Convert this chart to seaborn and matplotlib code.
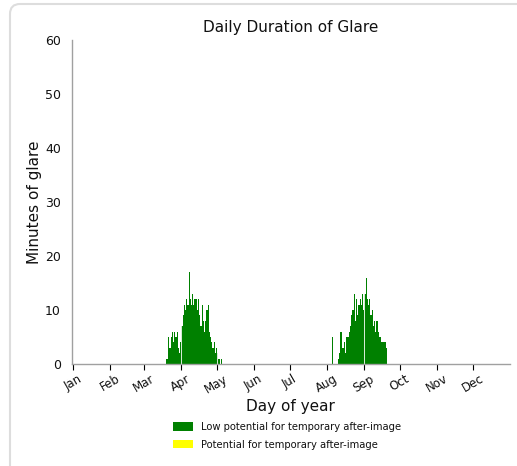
import numpy as np
import pandas as pd
import matplotlib
matplotlib.use("Agg")
import matplotlib.pyplot as plt
import seaborn as sns
from matplotlib.patches import FancyBboxPatch, Patch

# ---- data ----
spring_days = list(range(79, 126))
spring_minutes = [1, 1, 5, 3, 5, 6, 4, 6, 5, 6, 3, 2, 4, 7, 9, 11, 10, 12, 11, 17,
                  12, 11, 13, 11, 12, 12, 10, 12, 9, 7, 11, 8, 6, 8, 10, 11, 6, 5,
                  4, 3, 4, 2, 3, 2, 1, 0, 1]
autumn_days = [218] + list(range(223, 264))
autumn_minutes = [5, 1, 2, 6, 3, 3, 4, 2, 5, 5, 6, 7, 9, 10, 13, 8, 12, 9, 11, 12, 11,
                  13, 10, 13, 16, 12, 11, 12, 9, 10, 7, 8, 6, 8, 6, 5, 5, 4, 4, 4, 4, 3]
month_labels = ["Jan", "Feb", "Mar", "Apr", "May", "Jun",
                "Jul", "Aug", "Sep", "Oct", "Nov", "Dec"]
month_start_days = [1, 32, 60, 91, 121, 152, 182, 213, 244, 274, 305, 335]
legend_labels = ["Low potential for temporary after-image",
                 "Potential for temporary after-image"]
legend_colors = ["#008000", "#ffff00"]

df = pd.DataFrame({"day": spring_days + autumn_days,
                   "minutes": spring_minutes + autumn_minutes})

sns.set_style("white")
plt.rcParams["font.family"] = ["DejaVu Sans"]
plt.rcParams["text.color"] = "#111111"
plt.rcParams["axes.labelcolor"] = "#111111"
plt.rcParams["xtick.color"] = "#111111"
plt.rcParams["ytick.color"] = "#111111"

fig = plt.figure(figsize=(5.17, 4.66), dpi=100)
ax = fig.add_axes([0.139, 0.219, 0.847, 0.695])

sns.barplot(data=df, x="day", y="minutes", native_scale=True, color="#008000",
            width=1.0, linewidth=0, saturation=1, ax=ax, errorbar=None)

for d in month_start_days:
    ax.axvline(d, color="white", lw=0.6, zorder=2)

ax.set_xlim(0, 366)
ax.set_ylim(0, 60)
ax.set_xticks(month_start_days)
ax.set_xticklabels(month_labels, rotation=30, fontsize=8.5)
ax.set_yticks(range(0, 61, 10))
ax.tick_params(axis="y", length=0, labelsize=9, pad=8)
ax.tick_params(axis="x", length=4, width=0.8, color="black", bottom=True, pad=2)
for s in ["top", "right"]:
    ax.spines[s].set_visible(False)
ax.spines["left"].set_color("#a0a0a0")
ax.spines["bottom"].set_color("#a0a0a0")
ax.spines["left"].set_linewidth(1.0)
ax.spines["bottom"].set_linewidth(1.0)

ax.set_title("Daily Duration of Glare", fontsize=11, pad=6)
ax.set_xlabel("Day of year", fontsize=11, labelpad=2)
ax.set_ylabel("Minutes of glare", fontsize=11, labelpad=2)

handles = [Patch(facecolor=c, edgecolor="none") for c in legend_colors]
fig.legend(handles, legend_labels, loc="upper center", bbox_to_anchor=(0.555, 0.105),
           frameon=False, fontsize=7.2, handlelength=2.0, handleheight=0.9,
           labelspacing=0.75, borderpad=0)

border = FancyBboxPatch((10, -20), 530, 482, boxstyle="round,pad=0,rounding_size=10",
                        transform=None, facecolor="none", edgecolor="#dddddd",
                        lw=1.5, figure=fig)
fig.patches.append(border)

fig.savefig("out.png", dpi=100)
